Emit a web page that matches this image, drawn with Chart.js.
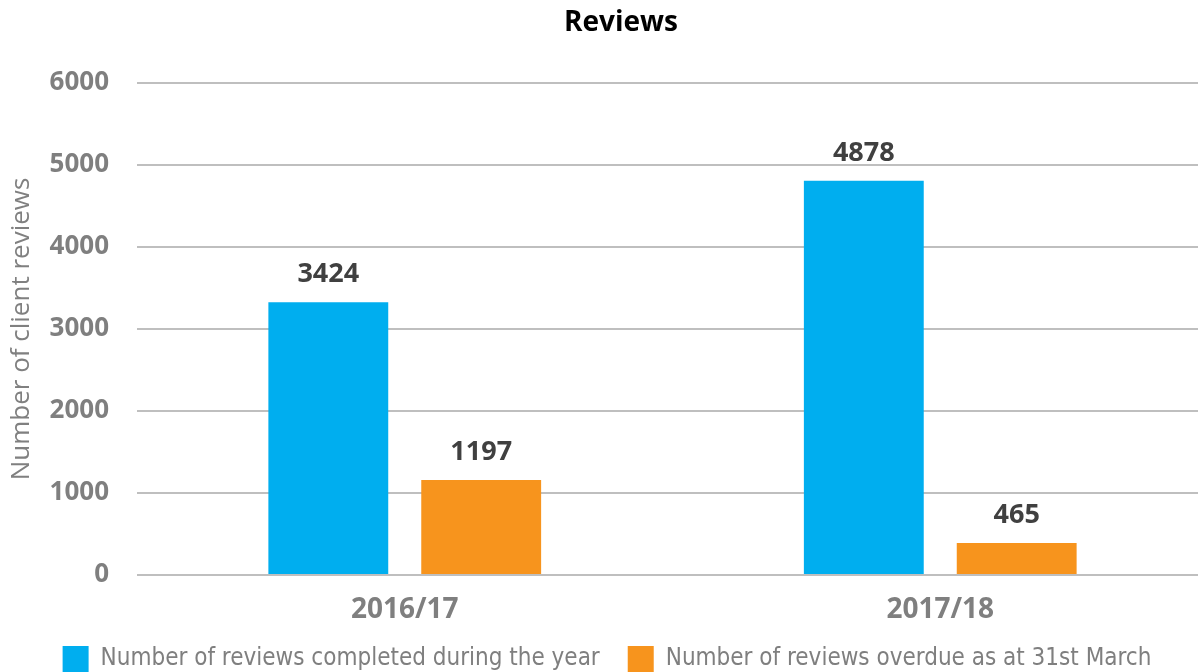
<!DOCTYPE html>
<html>
<head>
<meta charset="utf-8">
<script src="https://cdn.jsdelivr.net/npm/chart.js@4/dist/chart.umd.min.js"></script>
<style>
  html, body { margin: 0; padding: 0; background: #fff; overflow: hidden; }
  #wrap { width: 1210px; height: 672px; position: relative; }
</style>
</head>
<body>
<div id="wrap"><canvas id="c"></canvas></div>
<script>
const categories = ['2016/17', '2017/18'];
const completed = [3327, 4807];
const overdue = [1160, 390];
const completedLabels = ['3424', '4878'];
const overdueLabels = ['1197', '465'];
const yTicks = [0, 1000, 2000, 3000, 4000, 5000, 6000];
const seriesNames = ['Number of reviews completed during the year', 'Number of reviews overdue as at 31st March'];
const chartTitle = 'Reviews';
const yAxisTitle = 'Number of client reviews';

const labelPlugin = {
  id: 'barLabels',
  afterDatasetsDraw(chart) {
    const ctx = chart.ctx;
    ctx.save();
    ctx.font = 'bold 27px "Open Sans"';
    ctx.fillStyle = '#404040';
    ctx.textAlign = 'center';
    ctx.textBaseline = 'middle';
    const texts = [completedLabels, overdueLabels];
    chart.data.datasets.forEach((ds, di) => {
      chart.getDatasetMeta(di).data.forEach((bar, i) => {
        ctx.fillText(texts[di][i], bar.x, bar.y - 28);
      });
    });
    ctx.restore();
  }
};

const titlePlugin = {
  id: 'customTitle',
  afterDraw(chart) {
    const ctx = chart.ctx;
    ctx.save();
    ctx.font = 'bold 28px "Open Sans"';
    ctx.fillStyle = '#000000';
    ctx.textAlign = 'center';
    ctx.textBaseline = 'middle';
    ctx.fillText(chartTitle, 621, 23);
    ctx.restore();
  }
};

new Chart(document.getElementById('c'), {
  type: 'bar',
  data: {
    labels: categories,
    datasets: [
      { label: seriesNames[0], data: completed, backgroundColor: '#00AEEF' },
      { label: seriesNames[1], data: overdue, backgroundColor: '#F7941D' }
    ]
  },
  options: {
    responsive: true,
    maintainAspectRatio: false,
    animation: false,
    categoryPercentage: 0.571,
    barPercentage: 0.784,
    layout: { padding: { top: 83, left: 6, right: 2, bottom: -10 } },
    plugins: {
      title: { display: false },
      tooltip: { enabled: false },
      legend: {
        position: 'bottom',
        labels: {
          boxWidth: 26,
          boxHeight: 26,
          color: '#7F7F7F',
          padding: 28,
          font: { family: '"Liberation Sans Narrow", "DejaVu Sans Condensed", sans-serif', size: 24 }
        }
      }
    },
    scales: {
      x: {
        afterFit(scale) { scale.height = 43; },
        grid: { display: false, drawTicks: false },
        border: { display: false },
        ticks: { color: '#7F7F7F', padding: 18, font: { family: '"Open Sans"', size: 28, weight: 'bold' } }
      },
      y: {
        min: 0, max: 6000,
        afterFit(scale) { scale.width = 131; },
        afterBuildTicks(scale) { scale.ticks = yTicks.map(v => ({ value: v })); },
        grid: { color: '#BFBFBF', lineWidth: 2, drawTicks: false },
        border: { display: false },
        ticks: { color: '#7F7F7F', padding: 28, callback: v => String(v), font: { family: '"Open Sans"', size: 26, weight: 'bold' } },
        title: { display: true, text: yAxisTitle, color: '#808080', padding: 0, font: { family: '"Open Sans"', size: 26 } }
      }
    }
  },
  plugins: [labelPlugin, titlePlugin]
});
</script>
</body>
</html>
